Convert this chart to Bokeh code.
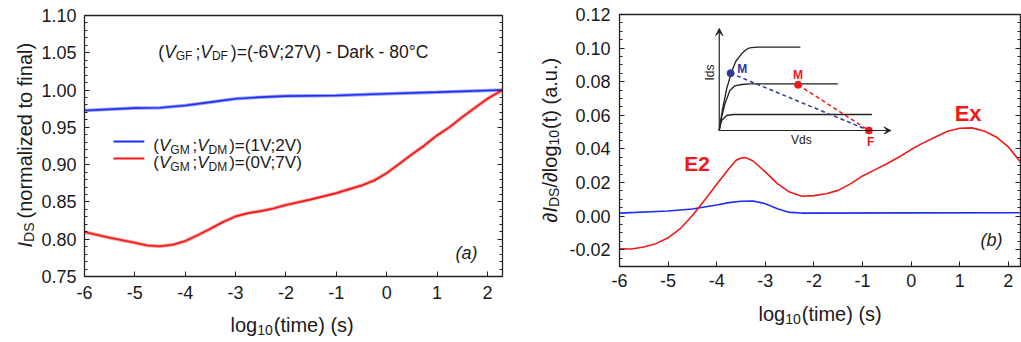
import math
from bokeh.plotting import figure
from bokeh.layouts import row, column
from bokeh.models import (Range1d, LinearAxis, SingleIntervalTicker, Label, Arrow,
                          VeeHead, CustomJSTickFormatter)
from bokeh.embed import file_html
from bokeh.resources import INLINE

# ---------------- data ----------------
# panel (a): normalized I_DS vs log10(time)
a_blue_x = [-6, -5, -4.5, -4, -3.5, -3, -2.5, -2, -1, 0, 1, 2, 2.3]
a_blue_y = [0.9727, 0.9758, 0.9762, 0.9794, 0.9838, 0.9883, 0.9905, 0.9919, 0.9928,
            0.995, 0.9972, 0.9995, 1.0]
a_red_x = [-6, -5.5, -5, -4.75, -4.5, -4.25, -4, -3.75, -3.5, -3.25, -3, -2.75, -2.5,
           -2.25, -2, -1.5, -1, -0.5, -0.25, 0, 0.25, 0.5, 0.75, 1, 1.25, 1.5, 1.75, 2, 2.3]
a_red_y = [0.8096, 0.802, 0.7953, 0.7915, 0.7905, 0.7925, 0.7975, 0.8055, 0.814, 0.823,
           0.8306, 0.835, 0.8377, 0.8413, 0.8458, 0.8534, 0.8618, 0.872, 0.8788, 0.8886,
           0.901, 0.9137, 0.9257, 0.9391, 0.9503, 0.9637, 0.9762, 0.9883, 1.0]

# panel (b): derivative
b_red_x = [-6, -5.75, -5.5, -5.25, -5, -4.75, -4.5, -4.25, -4, -3.75, -3.6, -3.5, -3.4,
           -3.25, -3, -2.75, -2.5, -2.25, -2, -1.75, -1.5, -1.25, -1, -0.75, -0.5, -0.25,
           0, 0.25, 0.5, 0.75, 1, 1.25, 1.5, 1.75, 2, 2.25]
b_red_y = [-0.0194, -0.0196, -0.0184, -0.0164, -0.0129, -0.0075, 0.0004, 0.0094, 0.0189,
           0.0282, 0.0332, 0.0346, 0.0348, 0.0328, 0.0263, 0.0193, 0.0143, 0.0118, 0.0122,
           0.0133, 0.0153, 0.0192, 0.0239, 0.0275, 0.0312, 0.0352, 0.0396, 0.0436, 0.0471,
           0.0505, 0.0523, 0.0525, 0.0507, 0.0471, 0.0412, 0.0322]
b_blue_x = [-6, -5, -4.5, -4, -3.75, -3.5, -3.25, -3, -2.75, -2.5, -2.25, 0, 2.25]
b_blue_y = [0.0018, 0.003, 0.0042, 0.0066, 0.008, 0.0088, 0.009, 0.0074, 0.0044, 0.0022,
            0.0018, 0.0019, 0.002]

# inset schematic (Vds, Ids in arbitrary units)
inset_top_v = [0, 0.02, 0.05, 0.082, 0.11, 0.149, 0.18, 0.204, 0.25, 0.542]
inset_top_i = [0, 0.2, 0.42, 0.583, 0.69, 0.767, 0.81, 0.827, 0.833, 0.833]
inset_mid_v = [0, 0.015, 0.038, 0.071, 0.104, 0.149, 0.2, 0.793]
inset_mid_i = [0, 0.13, 0.267, 0.4, 0.447, 0.46, 0.467, 0.467]
inset_bot_v = [0, 0.006, 0.016, 0.049, 0.093, 0.13, 1.02]
inset_bot_i = [0, 0.05, 0.1, 0.15, 0.16, 0.16, 0.16]
inset_mblue = (0.0756, 0.573)
inset_mred = (0.527, 0.457)
inset_f = (1.0, 0.0)

# ---------------- style ----------------
FONT = "Liberation Sans"
INK = "#1a1a1a"
BLUE = "#1f2ff0"
RED = "#f01818"
NAVY = "#2b3a9a"
BASE_FIX = -4   # baseline correction (text "down" direction), pixels

WID = {" ": 278, "(": 333, ")": 333, ";": 278, "=": 584, "-": 333, ".": 278, "/": 278,
       "°": 400, "∂": 494, "V": 667, "G": 778, "F": 611, "D": 722, "M": 833, "I": 278,
       "S": 667, "C": 722, "a": 556, "r": 333, "k": 500, "l": 222, "o": 556, "g": 556,
       "t": 278, "i": 222, "m": 833, "e": 556, "s": 500, "n": 556, "z": 500, "d": 556,
       "f": 278, "u": 556, "x": 500}


def tw(s, size):
    return sum(WID.get(c, 556) for c in s) * size / 1000.0


class Frame:
    """maps window pixels to data coordinates of one figure"""
    def __init__(self, ox, oy, fl, fr, ft, fb, xr, yr):
        self.ox, self.oy = ox, oy
        self.fl, self.fr, self.ft, self.fb = fl, fr, ft, fb
        self.xr, self.yr = xr, yr

    def d(self, X, Y):
        x0, x1 = self.xr
        y0, y1 = self.yr
        xd = x0 + (X - self.ox - self.fl) / (self.fr - self.fl) * (x1 - x0)
        yd = y0 + (self.fb - (Y - self.oy)) / (self.fb - self.ft) * (y1 - y0)
        return xd, yd


def rich(p, fr, X, Y, segs, angle=0.0, color=INK):
    pos = 0.0
    for s in segs:
        txt, size, style, dy = s[:4]
        col = s[4] if len(s) > 4 else color
        if txt == "":
            pos += size
            continue
        if angle == 0:
            xd, yd = fr.d(X + pos, Y + dy + BASE_FIX)
        else:
            xd, yd = fr.d(X + dy + BASE_FIX, Y - pos)
        p.add_layout(Label(x=xd, y=yd, text=txt, text_font=FONT,
                           text_font_size=f"{size}px", text_font_style=style,
                           text_color=col, text_align="left",
                           text_baseline="alphabetic", angle=angle))
        pos += tw(txt, size)


def make_fig(W, H, bl, br, bt, bb, xr, yr):
    p = figure(width=W, height=H, x_range=Range1d(*xr), y_range=Range1d(*yr),
               output_backend="svg", toolbar_location=None,
               min_border_left=bl, min_border_right=br,
               min_border_top=bt, min_border_bottom=bb)
    p.grid.visible = False
    p.outline_line_color = "#222222"
    p.outline_line_width = 1.3
    p.background_fill_color = "white"
    p.border_fill_color = "white"
    p.frame_align = False
    return p


def text_fig(W, H, ox, oy):
    p = figure(width=W, height=H, x_range=Range1d(0, W), y_range=Range1d(0, H),
               output_backend="svg", toolbar_location=None,
               x_axis_type=None, y_axis_type=None, min_border=0)
    p.outline_line_color = None
    p.background_fill_color = "white"
    p.border_fill_color = "white"
    p.frame_align = False
    return p, Frame(ox, oy, 0, W, 0, H, (0, W), (0, H))


def style_axis(ax, standoff):
    ax.major_label_text_font = FONT
    ax.major_label_text_font_size = "18px"
    ax.major_label_text_color = INK
    ax.major_tick_in = 5
    ax.major_tick_out = 0
    ax.minor_tick_in = 3
    ax.minor_tick_out = 0
    ax.axis_line_color = "#222222"
    ax.major_tick_line_color = "#222222"
    ax.minor_tick_line_color = "#222222"
    ax.major_label_standoff = standoff


def mirror_right(p, interval, minor):
    ax = LinearAxis(ticker=SingleIntervalTicker(interval=interval, num_minor_ticks=minor),
                    formatter=CustomJSTickFormatter(code="return ''"))
    style_axis(ax, 0)
    ax.major_label_text_font_size = "0px"
    p.add_layout(ax, "right")


def fmt0():
    return CustomJSTickFormatter(code="return tick.toFixed(0)")


def fmt2():
    return CustomJSTickFormatter(code="return Math.abs(tick) < 1e-9 ? '0.00' : tick.toFixed(2)")


# ---------------- panel (a) ----------------
AX = (-6, 2.3)
AY = (0.75, 1.10)
A_X0, A_W, A_H = 38, 472, 308
pa = make_fig(A_W, A_H, 83 - A_X0, A_W - (502 - A_X0), 15, A_H - 276, AX, AY)
fa = Frame(A_X0, 0, 83 - A_X0, 502 - A_X0, 15, 276, AX, AY)
pa.xaxis.ticker = SingleIntervalTicker(interval=1, num_minor_ticks=0)
pa.yaxis.ticker = SingleIntervalTicker(interval=0.05, num_minor_ticks=5)
pa.xaxis.formatter = fmt0()
pa.yaxis.formatter = fmt2()
style_axis(pa.xaxis[0], 9)
style_axis(pa.yaxis[0], 8)
pa.xaxis.minor_tick_line_color = None
mirror_right(pa, 0.05, 5)

pa.line(a_blue_x, a_blue_y, color=BLUE, line_width=3.5, alpha=0.45)
pa.line(a_blue_x, a_blue_y, color=BLUE, line_width=1.6)
pa.line(a_red_x, a_red_y, color=RED, line_width=3.5, alpha=0.45)
pa.line(a_red_x, a_red_y, color=RED, line_width=1.6)

# legend swatches
for yy, c in ((141, BLUE), (158, RED)):
    (x0d, y0d), (x1d, _) = fa.d(112, yy), fa.d(143, yy)
    pa.segment(x0=[x0d], y0=[y0d], x1=[x1d], y1=[y0d], color=c, line_width=2)

SUB = 12
rich(pa, fa, 152, 149, [("(", 17, "normal", 0), ("V", 17, "italic", 0),
                        ("GM", SUB, "normal", 4), ("", 3, "", 0), (";", 17, "normal", 0),
                        ("V", 17, "italic", 0), ("DM", SUB, "normal", 4), ("", 2, "", 0),
                        (")=(1V;2V)", 17, "normal", 0)])
rich(pa, fa, 152, 166, [("(", 17, "normal", 0), ("V", 17, "italic", 0),
                        ("GM", SUB, "normal", 4), ("", 3, "", 0), (";", 17, "normal", 0),
                        ("V", 17, "italic", 0), ("DM", SUB, "normal", 4), ("", 2, "", 0),
                        (")=(0V;7V)", 17, "normal", 0)])
rich(pa, fa, 157, 55, [("(", 17.5, "normal", 0), ("V", 17.5, "italic", 0),
                       ("GF", SUB, "normal", 4), ("", 3, "", 0), (";", 17.5, "normal", 0),
                       ("V", 17.5, "italic", 0), ("DF", SUB, "normal", 4), ("", 3, "", 0),
                       (")=(-6V;27V) - Dark - 80°C", 17.5, "normal", 0)])
rich(pa, fa, 455, 256, [("(a)", 18, "italic", 0)])

# axis titles of (a) in their own text strips
ya, fya = text_fig(A_X0, 342, 0, 0)
rich(ya, fya, 28, 247, [("I", 20, "italic", 0), ("DS", 14, "normal", 4), ("", 4, "", 0),
                        ("(normalized to final)", 20, "normal", 0)], angle=math.pi / 2)
xa, fxa = text_fig(A_W, 342 - A_H, A_X0, A_H)
rich(xa, fxa, 230, 328, [("log", 20, "normal", 0), ("10", 14, "normal", 5), ("", 1, "", 0),
                         ("(time) (s)", 20, "normal", 0)])

# ---------------- panel (b) ----------------
BX = (-6, 2.25)
BY = (-0.03, 0.12)
B_YL = 510          # left edge of the y-title strip
B_X0 = 566          # left edge of panel (b) figure
B_W, B_H = 1021 - B_X0, 296
pb = make_fig(B_W, B_H, 618 - B_X0, B_W - (1020 - B_X0), 14, B_H - 266, BX, BY)
fb = Frame(B_X0, 0, 618 - B_X0, 1020 - B_X0, 14, 266, BX, BY)
pb.xaxis.ticker = SingleIntervalTicker(interval=1, num_minor_ticks=0)
pb.yaxis.ticker = SingleIntervalTicker(interval=0.02, num_minor_ticks=4)
pb.xaxis.formatter = fmt0()
pb.yaxis.formatter = fmt2()
style_axis(pb.xaxis[0], 7)
style_axis(pb.yaxis[0], 9)
pb.xaxis.minor_tick_line_color = None
mirror_right(pb, 0.02, 4)

pb.line(b_blue_x, b_blue_y, color=BLUE, line_width=1.6)
pb.line(b_red_x, b_red_y, color=RED, line_width=1.6)

# inset schematic on its own ranges (origin at window pixel 718,130)
IOX, IOY = 718, 130
ISX, ISY = 150.0, 100.0
pb.extra_x_ranges = {"ix": Range1d((618 - IOX) / ISX, (1020 - IOX) / ISX)}
pb.extra_y_ranges = {"iy": Range1d((IOY - 266) / ISY, (IOY - 14) / ISY)}
kw = dict(x_range_name="ix", y_range_name="iy")
for vv, ii in ((inset_top_v, inset_top_i), (inset_mid_v, inset_mid_i),
               (inset_bot_v, inset_bot_i)):
    pb.line(vv, ii, color="#222222", line_width=1.3, **kw)
pb.add_layout(Arrow(x_start=0, y_start=0, x_end=0, y_end=1.02, line_width=1.2,
                    line_color="#222222",
                    end=VeeHead(size=7, line_color="#222222", fill_color="#222222"), **kw))
pb.add_layout(Arrow(x_start=0, y_start=0, x_end=1.147, y_end=0, line_width=1.2,
                    line_color="#222222",
                    end=VeeHead(size=7, line_color="#222222", fill_color="#222222"), **kw))
pb.line([inset_mblue[0], inset_f[0]], [inset_mblue[1], inset_f[1]], color=NAVY,
        line_width=1.5, line_dash="4 3", **kw)
pb.line([inset_mred[0], inset_f[0]], [inset_mred[1], inset_f[1]], color=RED,
        line_width=1.5, line_dash="4 3", **kw)
pb.scatter([inset_mblue[0]], [inset_mblue[1]], size=7, color=NAVY, **kw)
pb.scatter([inset_mred[0], inset_f[0]], [inset_mred[1], inset_f[1]], size=7, color=RED, **kw)

rich(pb, fb, 736, 72, [("M", 12, "bold", 0, NAVY)])
rich(pb, fb, 792, 78, [("M", 12, "bold", 0, RED)])
rich(pb, fb, 866, 145, [("F", 12, "bold", 0, RED)])
rich(pb, fb, 790, 143, [("Vds", 12, "normal", 0)])
rich(pb, fb, 713, 80, [("Ids", 12, "normal", 0)], angle=math.pi / 2)

rich(pb, fb, 683, 167, [("E2", 21, "bold", 0, RED)])
rich(pb, fb, 954, 117, [("Ex", 22, "bold", 0, RED)])
rich(pb, fb, 980, 243, [("(b)", 18, "italic", 0)])

yb, fyb = text_fig(B_X0 - B_YL, 342, B_YL, 0)
rich(yb, fyb, 553, 222, [("∂", 20, "normal", 0), ("I", 20, "italic", 0),
                         ("DS", 14, "normal", 4), ("/∂log", 20, "normal", 0),
                         ("10", 14, "normal", 4), ("", 1, "", 0),
                         ("(t) (a.u.)", 20, "normal", 0)], angle=math.pi / 2)
xb, fxb = text_fig(B_W, 342 - B_H, B_X0, B_H)
rich(xb, fxb, 758, 317, [("log", 20, "normal", 0), ("10", 14, "normal", 5), ("", 1, "", 0),
                         ("(time) (s)", 20, "normal", 0)])

layout = row(ya, column(pa, xa), yb, column(pb, xb))
open("out.html", "w").write(file_html(layout, INLINE))
